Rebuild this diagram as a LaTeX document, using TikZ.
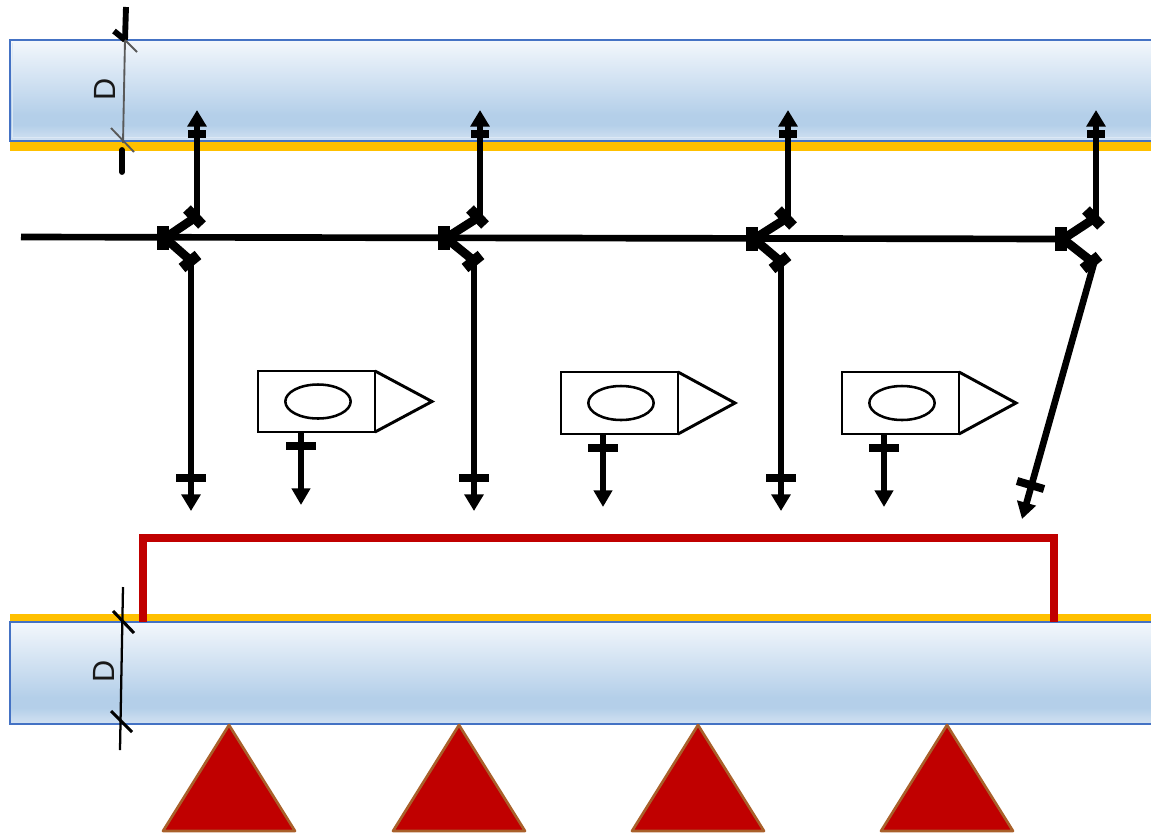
\documentclass[tikz,border=0pt]{standalone}
\usepackage{fontspec}
\setmainfont{Liberation Sans}
\usetikzlibrary{arrows.meta,shapes.geometric}
\definecolor{bandTop}{HTML}{F3F7FC}
\definecolor{bandMid}{HTML}{B4CFE9}
\definecolor{bandLow}{HTML}{D3E2F2}
\definecolor{bandEdge}{HTML}{4472C4}
\definecolor{rimLight}{HTML}{DCE8F5}
\definecolor{amber}{HTML}{FFC000}
\definecolor{signalRed}{HTML}{C00000}
\definecolor{triEdge}{HTML}{A9602A}
% the path's bounding box takes the 25bp..75bp part of the shading
\pgfdeclareverticalshading{bandshade}{100bp}{
  color(0bp)=(bandLow); color(25bp)=(bandLow); color(33bp)=(bandMid); color(38bp)=(bandMid);
  color(75bp)=(bandTop); color(100bp)=(bandTop)}
\tikzset{
  band/.style={shading=bandshade, draw=bandEdge, line width=1.5pt},
  rim/.style={draw=rimLight, line width=1.1pt},
  amberstrip/.style={fill=amber, draw=none},
  mainline/.style={draw=black, line width=5pt},
  branch/.style={draw=black, line width=6.6pt},
  capbar/.style={draw=black, line width=8pt},
  hubbar/.style={draw=black, line width=9pt},
  flow/.style={draw=black, line width=5pt, -{Triangle[length=12.5pt,width=14pt]}},
  crossbar/.style={draw=black, line width=6pt},
  camline/.style={draw=black, line width=2.2pt, line join=miter},
  camstem/.style={draw=black, line width=4.4pt, -{Triangle[length=12.5pt,width=13.5pt]}},
  redloop/.style={draw=signalRed, line width=6pt, line join=miter},
  dimthin/.style={draw=black, line width=1.7pt},
  dimtick/.style={draw=black, line width=2.3pt},
  dimgrey/.style={draw=black!65, line width=1.4pt},
  dimthick/.style={draw=black, line width=4.4pt},
  dimlabel/.style={font=\fontsize{23}{23}\selectfont, rotate=90, inner sep=0pt, text=black!90},
  pier/.style={fill=signalRed, draw=triEdge, line width=2pt, line join=round},
}
\newcommand{\splitter}[5]{% id, hub x, hub y, up x, down x
  \coordinate (hub#1) at (#2,#3);
  \coordinate (upj#1) at (#4-1,#3-21);
  \coordinate (dnj#1) at (#5-1,#3+22);
  \draw[hubbar] (#2-2,#3-12) -- (#2-2,#3+12);
  \draw[branch] (hub#1) -- (upj#1);
  \draw[branch] (hub#1) -- (dnj#1);
  \draw[capbar] (#4-10,#3-29) -- (#4+5,#3-13);
  \draw[capbar] (#5-9,#3+30) -- (#5+7,#3+17);
}
\newcommand{\camera}[6]{% id, left, top, right, bottom, stem x
  \coordinate (camNW#1) at (#2,#3);
  \coordinate (camNE#1) at (#4,#3);
  \coordinate (camSE#1) at (#4,#5);
  \coordinate (camSW#1) at (#2,#5);
  \coordinate (camTip#1) at (#4+57,{(#3+#5)/2});
  \draw[camline] (camNW#1) -- (camNE#1) -- (camSE#1) -- (camSW#1) -- cycle;
  \draw[camline] (camNE#1) -- (camTip#1) -- (camSE#1);
  \node[draw=black, line width=1.9pt, ellipse, minimum width=49pt, minimum height=25.5pt, inner sep=0pt] (lens#1) at (#2+60,{(#3+#5)/2}) {};
  \coordinate (stemTop#1) at (#6,#5);
  \coordinate (stemEnd#1) at (#6,#5+73);
  \draw[camstem] (stemTop#1) -- (stemEnd#1);
  \draw[crossbar] (#6-15,#5+14) -- (#6+15,#5+14);
}
\begin{document}
\begin{tikzpicture}[x=0.75pt,y=-0.75pt]
\useasboundingbox (0,0) rectangle (1151,832);
\fill[white] (0,0) rectangle (1151,832);

% top wall
\fill[amberstrip] (10,141) rectangle (1151,151);
\path[band] (10,40) -- (1155,40) -- (1155,141) -- (10,141) -- cycle;
\draw[rim] (12,137.5) -- (1155,137.5);
\draw[rim] (12.5,43) -- (12.5,138);

% bottom wall
\fill[amberstrip] (10,614) rectangle (1151,622);
\path[band] (10,622) -- (1155,622) -- (1155,724) -- (10,724) -- cycle;

% red loop
\coordinate (redA) at (143,622);
\coordinate (redB) at (143,538);
\coordinate (redC) at (1054,538);
\coordinate (redD) at (1054,622);
\draw[redloop] (redA) -- (redB) -- (redC) -- (redD);

% main line
\coordinate (mainStart) at (21,237);
\coordinate (hubEnd) at (1063,239);
\draw[mainline] (mainStart) -- (hubEnd);

% splitters
\splitter{1}{165}{238}{197}{191}
\splitter{2}{446}{238}{480}{474}
\splitter{3}{754}{239}{788}{781}
\splitter{4}{1063}{239}{1096}{1092}

% up flows
\foreach \i/\x in {1/197,2/480,3/788,4/1096}{
  \coordinate (upTip\i) at (\x,110);
  \draw[flow] (upj\i) ++(1,0) -- (upTip\i);
  \draw[crossbar] (\x-9,134) -- (\x+9,134);
}
% down flows
\foreach \i/\x in {1/191,2/474,3/781}{
  \coordinate (dnTip\i) at (\x,511);
  \draw[flow] (dnj\i) ++(1,0) -- (dnTip\i);
  \draw[crossbar] (\x-15,478) -- (\x+15,478);
}
\coordinate (dnStart4) at (1096,256);
\coordinate (dnTip4) at (1022,519);
\draw[flow] (dnStart4) -- (dnTip4);
\draw[crossbar] (1017,481) -- (1044,489);

% cameras
\camera{1}{258}{371}{375}{432}{301}
\camera{2}{561}{372}{678}{434}{603}
\camera{3}{842}{372}{959}{434}{884}

% top dimension
\coordinate (dtA) at (126,7);
\coordinate (dtB) at (125,40);
\coordinate (dtC) at (123,143);
\coordinate (dtD) at (122,150);
\coordinate (dtE) at (122,172);
\draw[dimthick] (dtA) -- (dtB);
\draw[dimgrey] (dtB) -- (dtC);
\draw[dimthick, line cap=round] (dtD) -- (dtE);
\draw[dimthick] (114,31) -- (125,40);
\draw[dimgrey] (125,40) -- (137,52);
\draw[dimgrey] (111,128) -- (134,152);
\node[dimlabel] (labelTop) at (105,89) {D};

% bottom dimension
\coordinate (dbA) at (123,587);
\coordinate (dbB) at (120,750);
\draw[dimthin] (dbA) -- (dbB);
\draw[dimtick] (113,611) -- (134,633);
\draw[dimtick] (111,711) -- (132,732);
\node[dimlabel] (labelBot) at (104,671) {D};

% piers
\foreach \x in {229,459,698,947}{
  \draw[pier] (\x,725) -- (\x+66,831) -- (\x-66,831) -- cycle;
}
\end{tikzpicture}
\end{document}
